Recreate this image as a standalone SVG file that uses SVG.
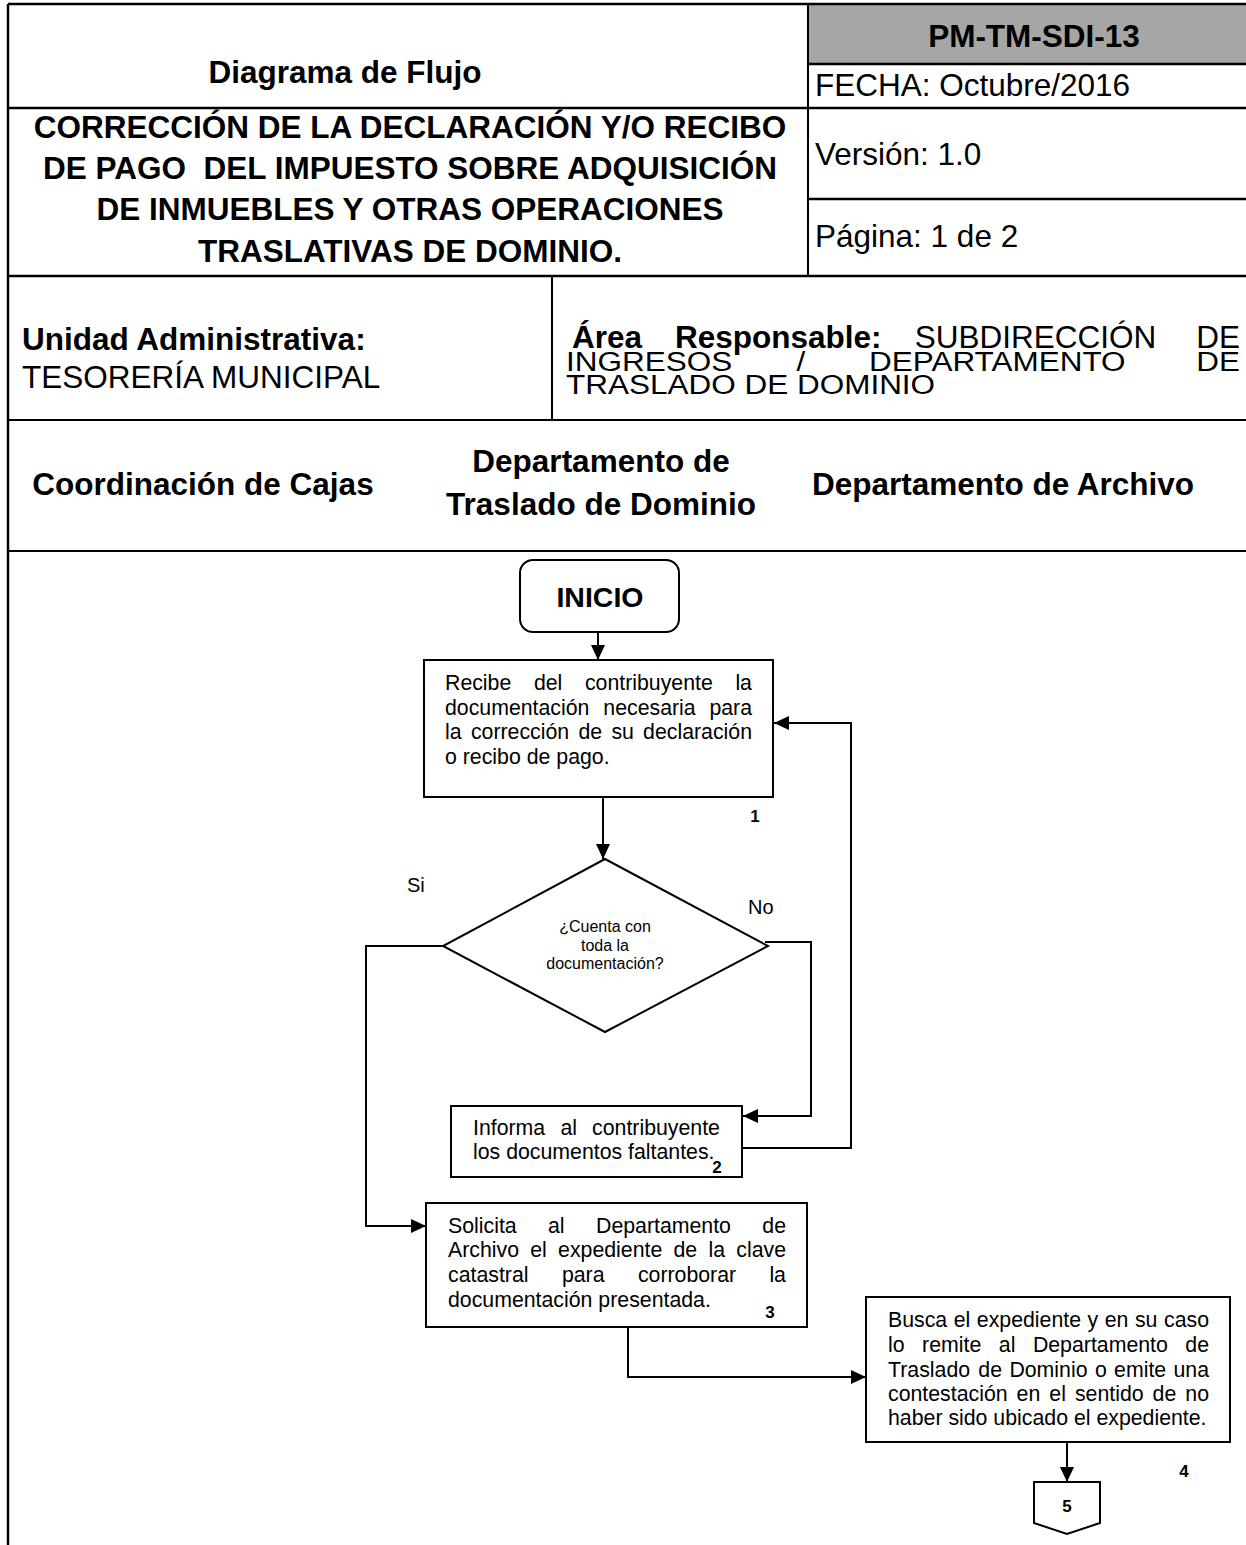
<svg xmlns="http://www.w3.org/2000/svg" width="1246" height="1545" viewBox="0 0 1246 1545">
<style>
.hb{font-family:"Liberation Sans",Arial,sans-serif;font-size:31.5px;font-weight:bold;fill:#000}
.hr{font-family:"Liberation Sans",Arial,sans-serif;font-size:31.5px;fill:#000}
.t{font-family:"Liberation Sans",Arial,sans-serif;font-size:21.3px;fill:#000}
.d{font-family:"Liberation Sans",Arial,sans-serif;font-size:16px;fill:#000}
.yn{font-family:"Liberation Sans",Arial,sans-serif;font-size:20px;fill:#000}
.n{font-family:"Liberation Sans",Arial,sans-serif;font-size:17px;font-weight:bold;fill:#000}
.grid{stroke:#000;stroke-width:2.5;fill:none}
.thin{stroke:#000;stroke-width:2;fill:none}
.box{stroke:#000;stroke-width:2;fill:#fff}
.con{stroke:#000;stroke-width:2;fill:none}
</style>
<defs>
<marker id="ah" markerUnits="userSpaceOnUse" markerWidth="15" markerHeight="14" refX="15" refY="7" orient="auto">
<path d="M0,0 L15,7 L0,14 z" fill="#000"/>
</marker>
</defs>
<rect x="0" y="0" width="1246" height="1545" fill="#fff"/>
<g id="header">
<rect x="808" y="4" width="440" height="60" fill="#a6a6a6"/>
<line class="grid" x1="8" y1="4" x2="1246" y2="4"/>
<line class="grid" x1="808" y1="64" x2="1246" y2="64"/>
<line class="grid" x1="8" y1="108" x2="1246" y2="108"/>
<line class="grid" x1="808" y1="199" x2="1246" y2="199"/>
<line class="grid" x1="8" y1="276" x2="1246" y2="276"/>
<line class="thin" x1="8" y1="420" x2="1246" y2="420"/>
<line class="thin" x1="8" y1="551" x2="1246" y2="551"/>
<line class="grid" x1="8" y1="4" x2="8" y2="1545"/>
<line class="thin" x1="808" y1="4" x2="808" y2="276"/>
<line class="thin" x1="552" y1="276" x2="552" y2="420"/>
<text class="hb" x="345" y="83" text-anchor="middle">Diagrama de Flujo</text>
<text class="hb" x="1034" y="47" text-anchor="middle">PM-TM-SDI-13</text>
<text class="hr" x="815" y="96">FECHA: Octubre/2016</text>
<text class="hb" x="410" y="138" text-anchor="middle">CORRECCIÓN DE LA DECLARACIÓN Y/O RECIBO</text>
<text class="hb" x="410" y="179" text-anchor="middle" xml:space="preserve">DE PAGO  DEL IMPUESTO SOBRE ADQUISICIÓN</text>
<text class="hb" x="410" y="220" text-anchor="middle">DE INMUEBLES Y OTRAS OPERACIONES</text>
<text class="hb" x="410" y="262" text-anchor="middle">TRASLATIVAS DE DOMINIO.</text>
<text class="hr" x="815" y="165">Versión: 1.0</text>
<text class="hr" x="815" y="247">Página: 1 de 2</text>
<text class="hb" x="22" y="350">Unidad Administrativa:</text>
<text class="hr" x="22" y="388">TESORERÍA MUNICIPAL</text>
<text class="hb" x="572" y="348">Área</text>
<text class="hb" x="674.9" y="348">Responsable:</text>
<text class="hr" x="914.8" y="348">SUBDIRECCIÓN</text>
<text class="hr" x="1240" y="348" text-anchor="end">DE</text>
<g transform="translate(0,371) scale(1,0.85)">
<text class="hr" x="566" y="0">INGRESOS</text>
<text class="hr" x="796.5" y="0">/</text>
<text class="hr" x="869" y="0">DEPARTAMENTO</text>
<text class="hr" x="1240" y="0" text-anchor="end">DE</text>
</g>
<g transform="translate(0,394) scale(1,0.85)">
<text class="hr" x="566" y="0">TRASLADO DE DOMINIO</text>
</g>
<text class="hb" x="203" y="495" text-anchor="middle">Coordinación de Cajas</text>
<text class="hb" x="601" y="472" text-anchor="middle">Departamento de</text>
<text class="hb" x="601" y="515" text-anchor="middle">Traslado de Dominio</text>
<text class="hb" x="1003" y="495" text-anchor="middle">Departamento de Archivo</text>
</g>
<g id="connectors">
<line class="con" x1="598" y1="632" x2="598" y2="660" marker-end="url(#ah)"/>
<line class="con" x1="603" y1="797" x2="603" y2="859" marker-end="url(#ah)"/>
<polyline class="con" points="765,942 811,942 811,1116 743,1116" marker-end="url(#ah)"/>
<polyline class="con" points="742,1148 851,1148 851,723 774,723" marker-end="url(#ah)"/>
<polyline class="con" points="443,946 366,946 366,1226 426,1226" marker-end="url(#ah)"/>
<polyline class="con" points="628,1327 628,1377 866,1377" marker-end="url(#ah)"/>
<line class="con" x1="1067" y1="1442" x2="1067" y2="1482" marker-end="url(#ah)"/>
<text class="yn" x="407" y="892">Si</text>
<text class="yn" x="748" y="914">No</text>
</g>
<g id="inicio">
<rect class="box" x="520" y="560" width="159" height="72" rx="13"/>
<text class="hb" x="600" y="607" text-anchor="middle" style="font-size:28.5px">INICIO</text>
</g>
<g id="step1">
<rect class="box" x="424" y="660" width="349" height="137"/>
<text class="t" y="690"><tspan x="445">Recibe</tspan><tspan x="533.9">del</tspan><tspan x="584.9">contribuyente</tspan><tspan x="735.4">la</tspan></text>
<text class="t" y="715"><tspan x="445">documentación</tspan><tspan x="603.3">necesaria</tspan><tspan x="709.4">para</tspan></text>
<text class="t" y="739"><tspan x="445">la</tspan><tspan x="470.9">corrección</tspan><tspan x="578.4">de</tspan><tspan x="611.4">su</tspan><tspan x="643.1">declaración</tspan></text>
<text class="t" x="445" y="764">o recibo de pago.</text>
<text class="n" x="755" y="822" text-anchor="middle">1</text>
</g>
<g id="decision">
<polygon class="box" points="605,859 768,946 605,1032 443,946"/>
<text class="d" x="605" y="932" text-anchor="middle">¿Cuenta con</text>
<text class="d" x="605" y="951" text-anchor="middle">toda la</text>
<text class="d" x="605" y="969" text-anchor="middle">documentación?</text>
</g>
<g id="step2">
<rect class="box" x="451" y="1106" width="291" height="71"/>
<text class="t" y="1135"><tspan x="473">Informa</tspan><tspan x="560.4">al</tspan><tspan x="592.1">contribuyente</tspan></text>
<text class="t" x="473" y="1159">los documentos faltantes.</text>
<text class="n" x="717" y="1173" text-anchor="middle">2</text>
</g>
<g id="step3">
<rect class="box" x="426" y="1203" width="381" height="124"/>
<text class="t" y="1233"><tspan x="448">Solicita</tspan><tspan x="548">al</tspan><tspan x="596">Departamento</tspan><tspan x="762.3">de</tspan></text>
<text class="t" y="1257"><tspan x="448">Archivo</tspan><tspan x="530.2">el</tspan><tspan x="558.1">expediente</tspan><tspan x="673.5">de</tspan><tspan x="708.5">la</tspan><tspan x="736.3">clave</tspan></text>
<text class="t" y="1282"><tspan x="448">catastral</tspan><tspan x="561.9">para</tspan><tspan x="637.9">corroborar</tspan><tspan x="769.4">la</tspan></text>
<text class="t" x="448" y="1307">documentación presentada.</text>
<text class="n" x="770" y="1318" text-anchor="middle">3</text>
</g>
<g id="step4">
<rect class="box" x="866" y="1297" width="364" height="145"/>
<text class="t" y="1327"><tspan x="888">Busca</tspan><tspan x="953.7">el</tspan><tspan x="976.8">expediente</tspan><tspan x="1087.5">y</tspan><tspan x="1104.7">en</tspan><tspan x="1134.9">su</tspan><tspan x="1164">caso</tspan></text>
<text class="t" y="1352"><tspan x="888">lo</tspan><tspan x="922.1">remite</tspan><tspan x="998.8">al</tspan><tspan x="1032.9">Departamento</tspan><tspan x="1185.3">de</tspan></text>
<text class="t" y="1377"><tspan x="888">Traslado</tspan><tspan x="978.3">de</tspan><tspan x="1009.4">Dominio</tspan><tspan x="1094.9">o</tspan><tspan x="1114.1">emite</tspan><tspan x="1173.5">una</tspan></text>
<text class="t" y="1401"><tspan x="888">contestación</tspan><tspan x="1016.6">en</tspan><tspan x="1049.3">el</tspan><tspan x="1074.9">sentido</tspan><tspan x="1152.6">de</tspan><tspan x="1185.3">no</tspan></text>
<text class="t" x="888" y="1425">haber sido ubicado el expediente.</text>
<text class="n" x="1184" y="1477" text-anchor="middle">4</text>
</g>
<g id="connector5">
<polygon class="box" points="1034,1482 1100,1482 1100,1523 1067,1534 1034,1523"/>
<text class="n" x="1067" y="1512" text-anchor="middle">5</text>
</g>
</svg>
